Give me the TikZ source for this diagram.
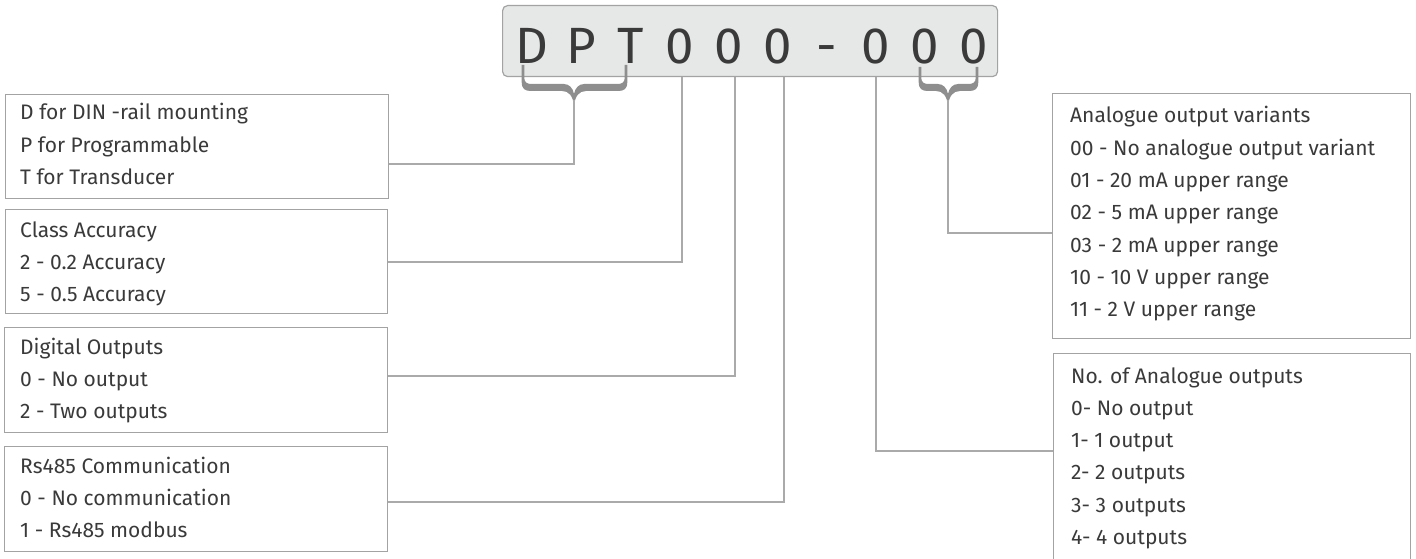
\documentclass[tikz,border=0pt]{standalone}
\usepackage{fontspec}
\setmainfont{Fira Sans}
\usetikzlibrary{calc}
\definecolor{txtcol}{HTML}{3A3A3A}
\definecolor{boxcol}{HTML}{A3A3A3}
\definecolor{conncol}{HTML}{AAAAAA}
\definecolor{codefill}{HTML}{E6E7E7}
\definecolor{bracecol}{HTML}{8E8E8E}
\newcommand{\codebrace}[4]{% xl, xm, xr, ytop
  \fill[bracecol] (#1-1.3,#4) -- (#1-1.3,82) .. controls (#1-1.3,89) and (#1+2,91) .. (#1+8,91)
   -- (#2-12,91) .. controls (#2-5,91) and (#2-1,96) .. (#2,106)
   .. controls (#2+1,96) and (#2+5,91) .. (#2+12,91)
   -- (#3-8,91) .. controls (#3-2,91) and (#3+1.3,89) .. (#3+1.3,82) -- (#3+1.3,#4)
   -- (#3-1.3,#4) -- (#3-1.3,78) .. controls (#3-1.3,82) and (#3-4,84) .. (#3-8,84)
   -- (#2+10,84) .. controls (#2+5,84) and (#2+1,88) .. (#2,94)
   .. controls (#2-1,88) and (#2-5,84) .. (#2-10,84)
   -- (#1+8,84) .. controls (#1+4,84) and (#1+1.3,82) .. (#1+1.3,78) -- (#1+1.3,#4) -- cycle;}
\newcommand{\rows}[1]{\begin{tabular}[t]{@{}l@{}}#1\end{tabular}}
\begin{document}
\begin{tikzpicture}[x=1pt,y=-1pt,
  infobox/.style={draw=boxcol, line width=1.2pt, fill=white, anchor=north west, inner sep=0pt},
  infotext/.style={anchor=base west, inner sep=0pt, text=txtcol, font=\fontsize{21}{32.3}\selectfont},
  conn/.style={draw=conncol, line width=1.3pt}]
\useasboundingbox (0,0) rectangle (1416,559);
\clip (0,0) rectangle (1416,559);
% code box
\node[draw=boxcol, fill=codefill, line width=1.2pt, rounded corners=5pt, anchor=north west,
      minimum width=495pt, minimum height=71pt, inner sep=0pt] (code) at (502,5) {};
\node[text=txtcol, inner sep=0pt, font=\fontsize{51}{60}\selectfont] (codetxt) at (753,46)
  {\makebox[49.1pt]{D}\makebox[49.1pt]{P}\makebox[49.1pt]{T}\makebox[49.1pt]{0}\makebox[49.1pt]{0}\makebox[49.1pt]{0}\makebox[49.1pt]{-}\makebox[49.1pt]{0}\makebox[49.1pt]{0}\makebox[49.1pt]{0}};
\codebrace{523}{574}{626}{65}
\codebrace{920}{948}{977}{67}
% left boxes
\node[infobox, minimum width=383pt, minimum height=104pt] (b1) at (5,94) {};
\node[infotext] (t1) at (20,120) {\rows{D for DIN -rail mounting\\P for Programmable\\T for Transducer}};
\node[infobox, minimum width=382pt, minimum height=104pt] (b2) at (5,209) {};
\node[infotext] (t2) at (20,237) {\rows{Class Accuracy\\2 - 0.2 Accuracy\\5 - 0.5 Accuracy}};
\node[infobox, minimum width=383pt, minimum height=105pt] (b3) at (4,327) {};
\node[infotext] (t3) at (20,354) {\rows{Digital Outputs\\0 - No output\\2 - Two outputs}};
\node[infobox, minimum width=383pt, minimum height=105pt] (b4) at (4,446) {};
\node[infotext] (t4) at (20,473) {\rows{Rs485 Communication\\0 - No communication\\1 - Rs485 modbus}};
% right boxes
\node[infobox, minimum width=358pt, minimum height=245pt] (r1) at (1052,93) {};
\node[infotext] (s1) at (1070,123) {\rows{Analogue output variants\\00 - No analogue output variant\\01 - 20 mA upper range\\02 - 5 mA upper range\\03 - 2 mA upper range\\10 - 10 V upper range\\11 - 2 V upper range}};
\node[infobox, minimum width=357pt, minimum height=230pt] (r2) at (1053,353) {};
\node[infotext] (s2) at (1071,383) {\rows{No. of Analogue outputs\\0- No output\\1- 1 output\\2- 2 outputs\\3- 3 outputs\\4- 4 outputs}};
% connector anchors
\coordinate (tipL) at (574,100);
\coordinate (tipR) at (948,100);
\coordinate (e1) at (b1.north east |- 0,164);
\coordinate (e2) at (b2.north east |- 0,262);
\coordinate (e3) at (b3.north east |- 0,376);
\coordinate (e4) at (b4.north east |- 0,502);
\coordinate (w1) at (r1.north west |- 0,233);
\coordinate (w2) at (r2.north west |- 0,451);
\draw[conn] (tipL) |- (e1);
\draw[conn] (code.south -| 682,0) |- (e2);
\draw[conn] (code.south -| 735,0) |- (e3);
\draw[conn] (code.south -| 784,0) |- (e4);
\draw[conn] (tipR) |- (w1);
\draw[conn] (code.south -| 876,0) |- (w2);
\end{tikzpicture}
\end{document}
